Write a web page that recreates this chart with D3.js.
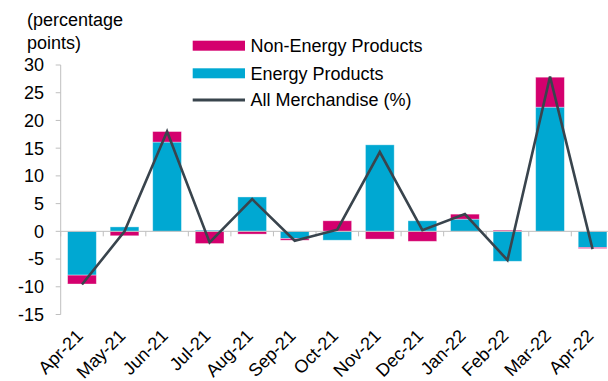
<!DOCTYPE html>
<html>
<head>
<meta charset="utf-8">
<script src="https://cdn.jsdelivr.net/npm/d3@7"></script>
<style>
  html, body { margin: 0; padding: 0; background: #fff; }
  svg { display: block; font-family: "Liberation Sans", Arial, sans-serif; }
</style>
</head>
<body>
<svg id="chart" width="608" height="381"></svg>
<script>
// Monthly contributions to the merchandise import price change
const months = ["Apr-21", "May-21", "Jun-21", "Jul-21", "Aug-21", "Sep-21", "Oct-21",
                "Nov-21", "Dec-21", "Jan-22", "Feb-22", "Mar-22", "Apr-22"];
const energy    = [-7.9, 0.8, 16.1, 0.2, 6.2, -1.3, -1.6, 15.6, 1.9, 2.2, -5.4, 22.4, -2.9];
const nonEnergy = [-1.6, -0.8, 1.9, -2.2, -0.5, -0.3, 1.9, -1.4, -1.8, 0.9, 0.2, 5.4, -0.2];
const allMerch  = [-9.6, 0.0, 18.0, -2.0, 5.8, -1.7, 0.3, 14.3, 0.2, 3.1, -5.2, 27.9, -3.2];
const yTicks = [30, 25, 20, 15, 10, 5, 0, -5, -10, -15];
const seriesNames = ["Non-Energy Products", "Energy Products", "All Merchandise (%)"];

const colors = { energy: "#00A8D2", nonEnergy: "#D4006E", line: "#39444D", axis: "#BFBFBF" };
const fontSize = 18;

const svg = d3.select("#chart");

const plotLeft = 60.7, step = 42.55;
const x = d3.scaleBand()
  .domain(months)
  .range([plotLeft, plotLeft + step * months.length])
  .paddingInner(0.325)
  .paddingOuter(0.1625);

const y = d3.scaleLinear().domain([-15, 30]).range([314.5, 65]);

// Stacked rows: energy sits next to zero, non-energy beyond it
const rows = months.map((m, i) => ({ month: m, energy: energy[i], nonEnergy: nonEnergy[i] }));
const stack = d3.stack().keys(["energy", "nonEnergy"]).offset(d3.stackOffsetDiverging);
const layers = stack(rows);

// Y axis
const yAxis = svg.append("g");
yAxis.append("line")
  .attr("x1", plotLeft).attr("x2", plotLeft)
  .attr("y1", y(30)).attr("y2", y(-15))
  .attr("stroke", colors.axis).attr("stroke-width", 1);
yAxis.selectAll("line.tick").data(yTicks).join("line")
  .attr("class", "tick")
  .attr("x1", plotLeft - 5).attr("x2", plotLeft)
  .attr("y1", d => y(d)).attr("y2", d => y(d))
  .attr("stroke", colors.axis);
yAxis.selectAll("text").data(yTicks).join("text")
  .attr("x", 44).attr("y", d => y(d) + 6.4)
  .attr("text-anchor", "end")
  .attr("font-size", fontSize).attr("fill", "#000")
  .text(d => d);

// Unit label
const unit = svg.append("text").attr("font-size", fontSize).attr("fill", "#000");
unit.append("tspan").attr("x", 27).attr("y", 25.5).text("(percentage");
unit.append("tspan").attr("x", 27).attr("y", 49).text("points)");

// Bars
svg.append("g").selectAll("g").data(layers).join("g")
  .attr("fill", d => d.key === "energy" ? colors.energy : colors.nonEnergy)
  .selectAll("rect").data(d => d).join("rect")
  .attr("x", d => x(d.data.month))
  .attr("width", x.bandwidth())
  .attr("y", d => y(Math.max(d[0], d[1])))
  .attr("height", d => Math.abs(y(d[0]) - y(d[1])))
  .attr("stroke", "rgba(255,255,255,0.45)")
  .attr("stroke-width", 0.8);

// Zero axis with category ticks
const xAxis = svg.append("g");
xAxis.append("line")
  .attr("x1", plotLeft).attr("x2", 608)
  .attr("y1", y(0)).attr("y2", y(0))
  .attr("stroke", colors.axis).attr("stroke-width", 1);
xAxis.selectAll("line.tick").data(d3.range(months.length + 1)).join("line")
  .attr("class", "tick")
  .attr("x1", i => plotLeft + i * x.step()).attr("x2", i => plotLeft + i * x.step())
  .attr("y1", y(0)).attr("y2", y(0) + 5)
  .attr("stroke", colors.axis);

// Total line
const line = d3.line()
  .x((d, i) => x(months[i]) + x.bandwidth() / 2)
  .y(d => y(d));
svg.append("path")
  .datum(allMerch)
  .attr("d", line)
  .attr("fill", "none")
  .attr("stroke", colors.line)
  .attr("stroke-width", 2.6)
  .attr("stroke-linejoin", "miter");

// Month labels, rotated
svg.append("g").selectAll("text").data(months).join("text")
  .attr("transform", d => `translate(${x(d) + x.bandwidth() / 2 + 2},${337}) rotate(-45)`)
  .attr("text-anchor", "end")
  .attr("font-size", fontSize).attr("fill", "#000")
  .text(d => d);

// Legend
const legend = svg.append("g");
const legendY = [45.7, 73.3, 100];
const legendX = 192.7, swatchW = 52.3;
legend.append("rect").attr("x", legendX).attr("y", legendY[0] - 5).attr("width", swatchW).attr("height", 10)
  .attr("fill", colors.nonEnergy);
legend.append("rect").attr("x", legendX).attr("y", legendY[1] - 5).attr("width", swatchW).attr("height", 10)
  .attr("fill", colors.energy);
legend.append("line").attr("x1", legendX).attr("x2", legendX + swatchW)
  .attr("y1", legendY[2]).attr("y2", legendY[2])
  .attr("stroke", colors.line).attr("stroke-width", 2.8);
legend.selectAll("text").data(seriesNames).join("text")
  .attr("x", 250.5).attr("y", (d, i) => legendY[i] + 6.4)
  .attr("font-size", fontSize).attr("fill", "#000")
  .text(d => d);
</script>
</body>
</html>
